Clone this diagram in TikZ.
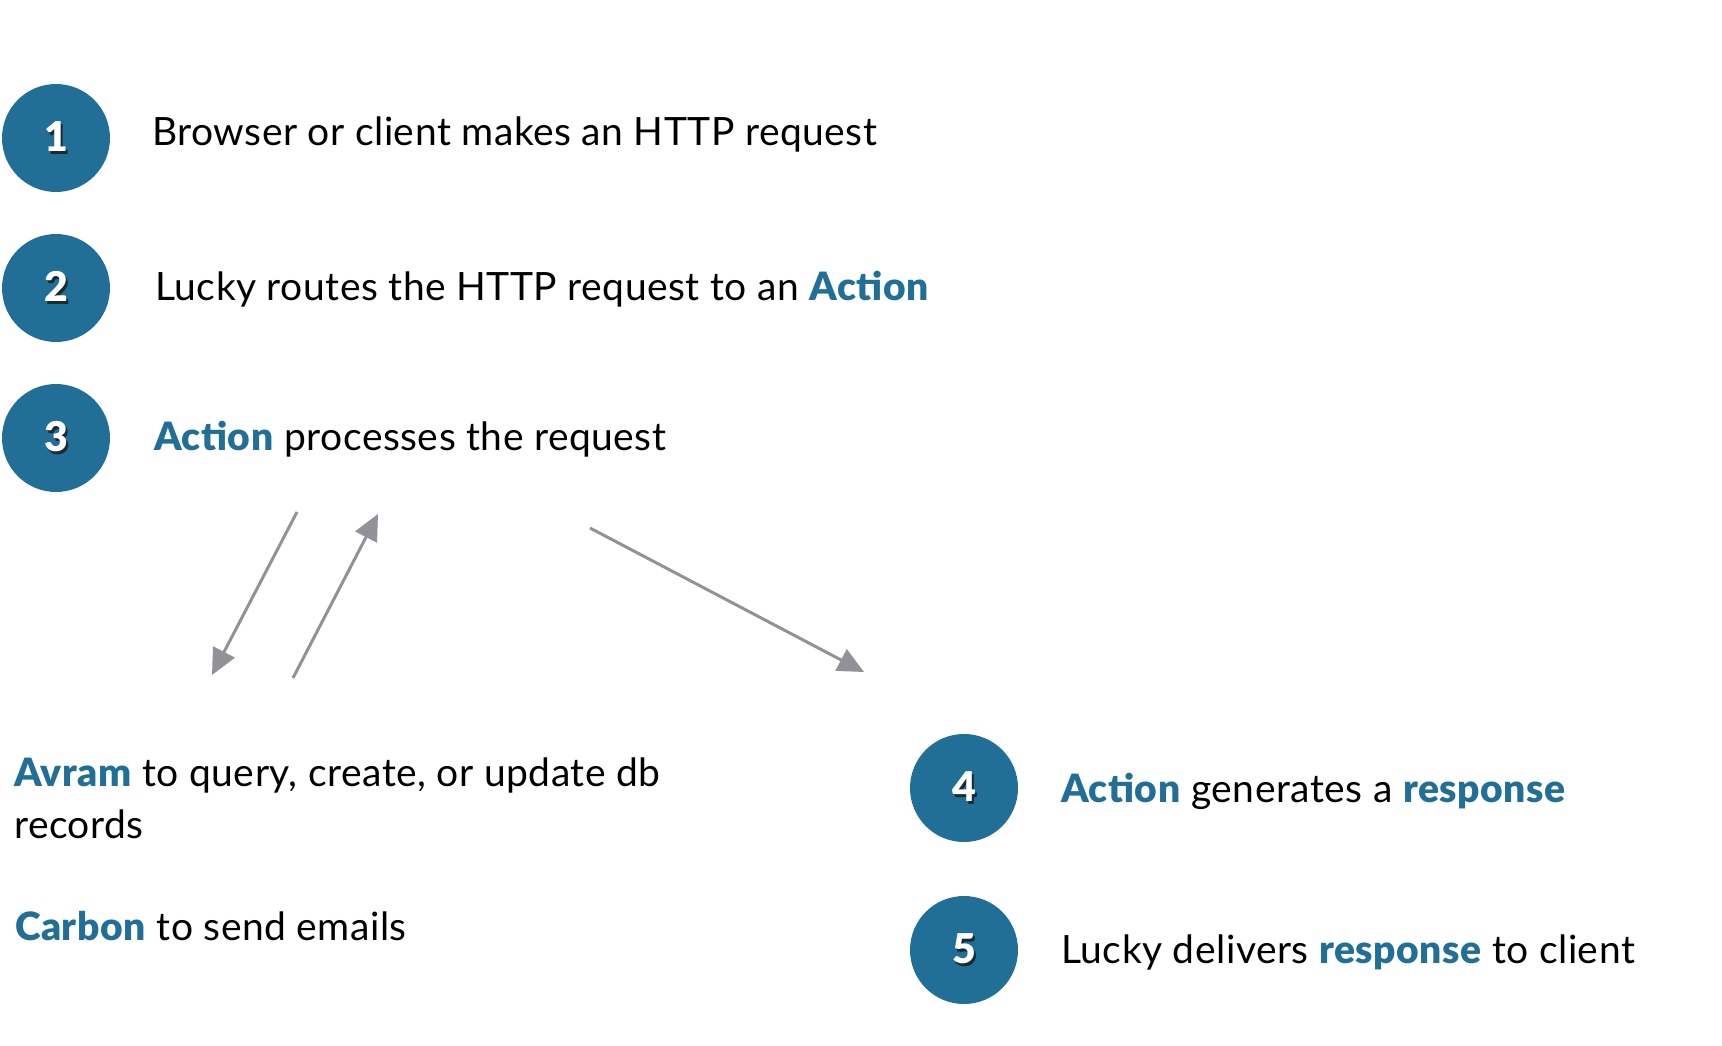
\documentclass[tikz,border=0pt]{standalone}
\usepackage{fontspec}
\setmainfont{Lato}[BoldFont={Lato Black},LetterSpace=1.3]
\newfontfamily\numfont{Lato Black}
\usetikzlibrary{arrows.meta}
\definecolor{luckyblue}{HTML}{216F96}
\definecolor{arrowgray}{HTML}{919298}
\definecolor{numshadow}{HTML}{1A2A33}
\newcommand\shadnum[1]{\makebox[0pt][l]{\hspace*{2.5pt}\raisebox{-2.5pt}{\textcolor{numshadow}{#1}}}#1}
\newcommand\hl[1]{\textcolor{luckyblue}{\textbf{#1}}}
\begin{document}
\begin{tikzpicture}[x=1pt,y=-1pt,
  numcirc/.style={circle,fill=luckyblue,minimum size=108pt,inner sep=0pt,text=white,
    font=\fontsize{41}{44}\selectfont\numfont},
  lbl/.style={anchor=base west,inner sep=0pt,font=\fontsize{39}{52}\selectfont,align=left},
  conn/.style={draw=arrowgray,line width=3pt,-{Triangle[length=26pt,width=24pt]}}]
\useasboundingbox (0,0) rectangle (1722,1046);
\node[numcirc] (c1) at (56,138) {\shadnum{1}};
\node[numcirc] (c2) at (56,288) {\shadnum{2}};
\node[numcirc] (c3) at (56,438) {\shadnum{3}};
\node[numcirc] (c4) at (964,788) {\shadnum{4}};
\node[numcirc] (c5) at (964,950) {\shadnum{5}};
\node[lbl] (t1) at (152,146) {Browser or client makes an HTTP request};
\node[lbl] (t2) at (155,300) {Lucky routes the HTTP request to an \hl{Action}};
\node[lbl] (t3) at (154,450) {\hl{Action} processes the request};
\node[lbl] (t4) at (1061,802) {\hl{Action} generates a \hl{response}};
\node[lbl] (t5) at (1061,963) {Lucky delivers \hl{response} to client};
\node[lbl] (ta) at (14,838) {\hl{Avram} to query, create, or update db\\records};
\node[lbl] (tc) at (15,940) {\hl{Carbon} to send emails};
\coordinate (a1s) at (297,512);
\coordinate (a1e) at (212,675);
\coordinate (a2s) at (293,678);
\coordinate (a2e) at (378,514);
\coordinate (a3s) at (590,528);
\coordinate (a3e) at (864,672);
\draw[conn] (a1s) -- (a1e);
\draw[conn] (a2s) -- (a2e);
\draw[conn] (a3s) -- (a3e);
\end{tikzpicture}
\end{document}
